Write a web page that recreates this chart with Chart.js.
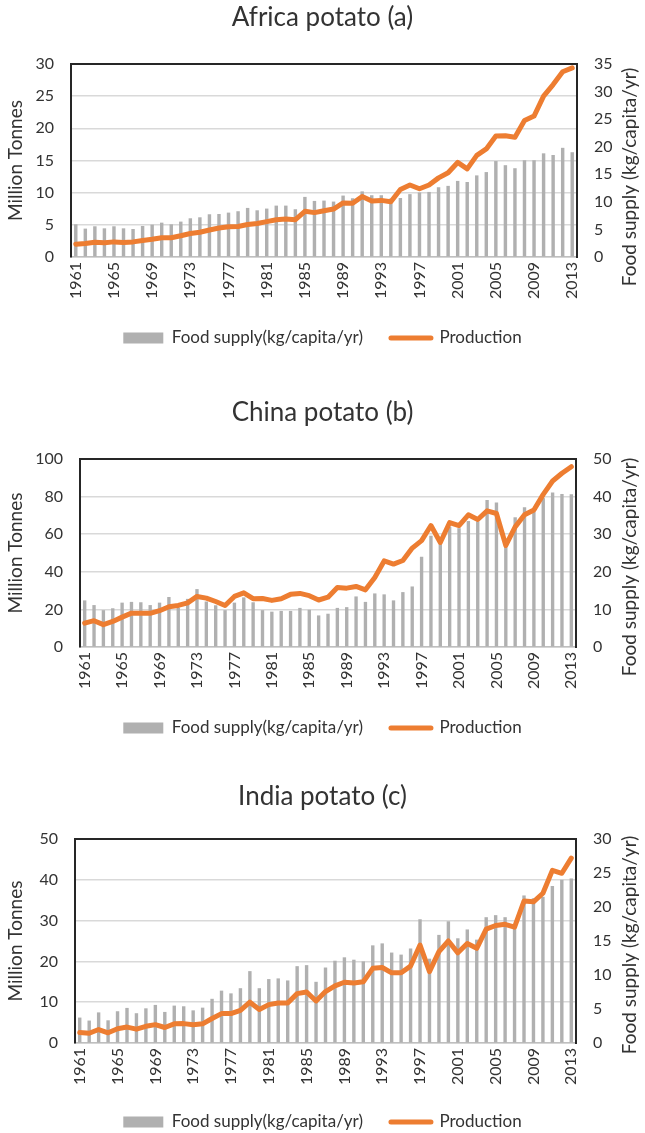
<!DOCTYPE html>
<html><head><meta charset="utf-8">
<script src="https://cdn.jsdelivr.net/npm/chart.js@4.4.1/dist/chart.umd.min.js"></script>
<style>
html,body{margin:0;padding:0;background:#fff;overflow:hidden;width:645px;height:1133px;}
.box{position:absolute;left:0;width:645px;}
</style></head><body>
<div class="box" id="b1" style="top:0px;height:372px"><canvas id="c1"></canvas></div>
<div class="box" id="b2" style="top:378px;height:374px"><canvas id="c2"></canvas></div>
<div class="box" id="b3" style="top:756px;height:390px"><canvas id="c3"></canvas></div>
<script>
const years = [1961,1962,1963,1964,1965,1966,1967,1968,1969,1970,1971,1972,1973,1974,1975,1976,1977,1978,1979,1980,
  1981,1982,1983,1984,1985,1986,1987,1988,1989,1990,1991,1992,1993,1994,1995,1996,1997,1998,1999,2000,
  2001,2002,2003,2004,2005,2006,2007,2008,2009,2010,2011,2012,2013];

const africaProduction = [2.0,2.1,2.3,2.2,2.35,2.25,2.35,2.55,2.75,3.0, 3.0,3.3,3.65,3.85,4.2,4.5,4.7,4.75,5.05,5.2,
  5.5,5.8,5.9,5.8,7.1,6.9,7.2,7.45,8.4, 8.35,9.4,8.7,8.8,8.6,10.5,11.2,10.6,11.2,12.3,
  13.1,14.7,13.7,15.8,16.8,18.8,18.85,18.6,21.2,21.9, 25.0,26.8,28.8,29.4];
const africaFood = [5.93,5.15,5.57,5.2,5.57,5.2,5.08,5.63,5.87,6.23, 5.93,6.42,7.02,7.2,7.75,7.8,8.05,8.3,8.9,8.47,
  8.78,9.32,9.32,8.66,10.9,10.17,10.23,10.05,11.14, 10.65,11.9,11.2,11.2,10.6,10.7,11.4,11.7,11.8,12.65,
  12.9,13.8,13.6,14.8,15.4,17.4,16.65,16.1,17.55,17.55, 18.8,18.5,19.8,19.0];

const chinaProduction = [12.7,14.0,11.9,13.6,15.9,18.0,18.0,17.9,19.3,21.4, 22.1,23.5,26.9,26.0,24.2,22.1,26.9,28.8,25.7,25.8,
  24.8,25.7,28.0,28.5,27.3,25.0,26.5,31.6,31.3, 32.2,30.4,37.0,45.8,44.1,46.0,52.6,56.6,64.6,55.6,
  66.2,64.6,70.3,67.8,72.4,71.0,54.0,63.9,70.3,72.9, 81.2,88.3,92.4,95.9];
const chinaFood = [12.4,11.15,9.8,10.3,11.8,12.0,11.9,11.15,11.8,13.3, 10.5,12.8,15.4,12.1,11.1,9.8,11.8,13.2,11.9,9.8,
  9.4,9.6,9.6,10.4,9.9,8.4,8.85,10.4,10.6, 13.45,12.0,14.25,14.0,12.4,14.6,16.1,24.0,29.6,27.6,
  32.0,31.6,33.5,33.4,39.1,38.4,27.0,34.5,37.2,36.0, 39.6,41.1,40.7,40.6];

const indiaProduction = [2.6,2.4,3.3,2.5,3.5,3.9,3.4,4.1,4.5,3.8, 4.7,4.75,4.5,4.7,6.0,7.2,7.2,8.0,10.0,8.2,
  9.4,9.8,9.8,12.1,12.5,10.3,12.6,14.0,14.9, 14.7,15.0,18.3,18.5,17.2,17.2,18.85,24.0,17.5,22.4,
  25.0,22.1,24.4,23.2,27.9,28.8,29.1,28.4,34.8,34.6, 36.7,42.3,41.6,45.3];
const indiaFood = [3.74,3.3,4.5,3.34,4.67,5.16,4.38,5.1,5.6,4.57, 5.5,5.4,4.8,5.2,6.5,7.7,7.3,8.06,10.57,8.06,
  9.4,9.5,9.2,11.3,11.45,9.0,11.1,12.1,12.6, 12.25,12.0,14.36,14.65,13.3,13.0,13.9,18.2,12.4,15.9,
  17.9,15.4,16.7,15.2,18.5,18.8,18.5,16.9,21.7,21.3, 21.5,23.1,24.0,24.2];

const titles = ['Africa potato (a)','China potato (b)','India potato (c)'];
const leftTitle = 'Million Tonnes';
const rightTitle = 'Food supply (kg/capita/yr)';
const foodLabel = 'Food supply(kg/capita/yr)';
const prodLabel = 'Production';

const FONT = 'Lato, "Liberation Sans", sans-serif';
const TEXT = '#333333';
const GREY = '#B0B0B0';
const ORANGE = '#ED7D31';

const framePlugin = {
  id: 'frame',
  afterDraw(chart, args, o) {
    const {ctx, chartArea: a} = chart;
    ctx.save();
    ctx.strokeStyle = '#262626';
    ctx.lineWidth = 2;
    ctx.beginPath();
    ctx.moveTo(a.left - 1, a.top);
    ctx.lineTo(a.right + 1, a.top);
    ctx.stroke();
    ctx.translate(o.x, o.y);
    ctx.rotate(-Math.PI / 2);
    ctx.fillStyle = TEXT;
    ctx.font = o.size + 'px ' + FONT;
    ctx.textAlign = 'center';
    ctx.textBaseline = 'middle';
    ctx.fillText(o.text, 0, 0);
    ctx.restore();
  }
};

function build(id, p) {
  const LEG_PAD = 28, LEG_FONT = 17, BOX_H = 11;
  const legItem = Math.max(LEG_FONT, BOX_H);
  const legH = legItem + LEG_PAD + 10;
  const legTop = p.legendCenter - LEG_PAD - legItem / 2;
  const TITLE_SIZE = 26, titleLH = TITLE_SIZE * 1.2;
  const tPadTop = p.titleCenter - titleLH / 2;
  const tPadBottom = p.plotTop - tPadTop - titleLH;
  const xH = legTop - p.plotBottom;
  const padBottom = p.H - (legTop + legH);
  const AX_TITLE = 19;

  new Chart(document.getElementById(id), {
    data: {
      labels: years,
      datasets: [
        { type: 'bar', label: foodLabel, data: p.food, yAxisID: 'y2', backgroundColor: GREY,
          barPercentage: 0.36, categoryPercentage: 1, order: 2 },
        { type: 'line', label: prodLabel, data: p.prod, yAxisID: 'y', borderColor: ORANGE, backgroundColor: ORANGE,
          borderWidth: 5, pointRadius: 0, tension: 0, borderJoinStyle: 'round', borderCapStyle: 'round', order: 1 }
      ]
    },
    options: {
      responsive: true, maintainAspectRatio: false, animation: false,
      layout: { padding: { top: 0, left: 0, right: 0, bottom: padBottom } },
      scales: {
        x: {
          type: 'category', offset: true,
          grid: { display: false, drawTicks: false },
          border: { display: true, color: '#BFBFBF', width: 1.5 },
          ticks: { autoSkip: false, maxRotation: 90, minRotation: 90, padding: 5, color: TEXT,
            font: { family: FONT, size: 16 },
            callback: function (v, i) { return i % 4 === 0 ? String(years[i]) : ''; } },
          afterFit: s => { s.height = xH; }
        },
        y: {
          position: 'left', min: 0, max: p.leftMax,
          ticks: { stepSize: p.leftStep, padding: 17, color: TEXT, font: { family: FONT, size: 16 } },
          grid: { color: '#D9D9D9', lineWidth: 1.5, drawTicks: false },
          border: { display: true, color: '#262626', width: 2 },
          title: { display: true, text: leftTitle, color: TEXT, font: { family: FONT, size: AX_TITLE },
            padding: { top: 16 - AX_TITLE * 0.6, bottom: 0 } },
          afterFit: s => { s.width = p.plotLeft; }
        },
        y2: {
          position: 'right', min: 0, max: p.rightMax,
          ticks: { stepSize: p.rightStep, padding: 17, color: TEXT, font: { family: FONT, size: 16 } },
          grid: { drawOnChartArea: false, drawTicks: false },
          border: { display: true, color: '#262626', width: 2 },
          afterFit: s => { s.width = 645 - p.plotRight; }
        }
      },
      plugins: {
        tooltip: { enabled: false },
        title: { display: true, text: p.title, color: TEXT,
          font: { family: FONT, size: TITLE_SIZE, weight: 'normal', lineHeight: 1.2 },
          padding: { top: tPadTop, bottom: tPadBottom } },
        legend: {
          position: 'bottom',
          labels: {
            usePointStyle: true, pointStyleWidth: 40, boxHeight: BOX_H, padding: LEG_PAD, color: TEXT,
            font: { family: FONT, size: LEG_FONT },
            generateLabels(chart) {
              const items = Chart.defaults.plugins.legend.labels.generateLabels(chart);
              items.sort((a, b) => a.datasetIndex - b.datasetIndex);
              items.forEach(it => {
                if (it.datasetIndex === 0) { it.pointStyle = 'rect'; it.lineWidth = 0; it.fillStyle = GREY; }
                else { it.pointStyle = 'line'; it.lineWidth = 5; it.strokeStyle = ORANGE; it.lineCap = 'round'; }
              });
              return items;
            }
          }
        },
        frame: { x: 630, y: p.rTitleY, text: rightTitle, size: AX_TITLE }
      }
    },
    plugins: [framePlugin]
  });
}

build('c1', { H: 372, titleCenter: 18, plotTop: 64, plotBottom: 257, plotLeft: 71, plotRight: 577, legendCenter: 338,
  leftMax: 30, leftStep: 5, rightMax: 35, rightStep: 5, rTitleY: 177,
  title: titles[0], prod: africaProduction, food: africaFood });
build('c2', { H: 374, titleCenter: 35, plotTop: 81, plotBottom: 269, plotLeft: 80, plotRight: 576, legendCenter: 350,
  leftMax: 100, leftStep: 20, rightMax: 50, rightStep: 10, rTitleY: 189,
  title: titles[1], prod: chinaProduction, food: chinaFood });
build('c3', { H: 390, titleCenter: 41, plotTop: 83, plotBottom: 287, plotLeft: 75, plotRight: 576, legendCenter: 366,
  leftMax: 50, leftStep: 10, rightMax: 30, rightStep: 5, rTitleY: 189,
  title: titles[2], prod: indiaProduction, food: indiaFood });
</script>
</body></html>
